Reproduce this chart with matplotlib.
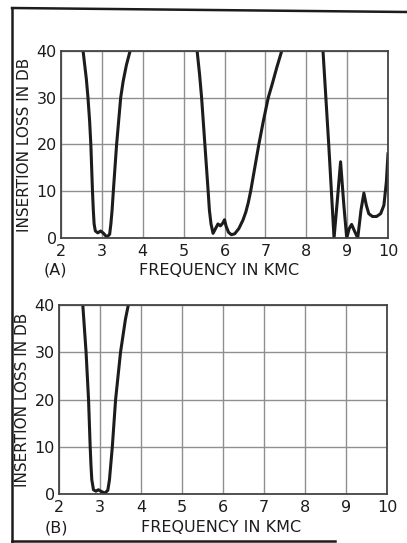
import numpy as np
import matplotlib
matplotlib.use('Agg')
import matplotlib.pyplot as plt
from matplotlib.lines import Line2D

# panel (A): three passbands
freq_a1 = [2.54, 2.58, 2.62, 2.66, 2.70, 2.73, 2.75, 2.77, 2.79, 2.81, 2.84, 2.90, 2.97, 3.04, 3.12,
           3.19, 3.22, 3.25, 3.28, 3.32, 3.36, 3.41, 3.46, 3.52, 3.60, 3.69]
loss_a1 = [40, 37, 34, 30, 25, 20, 15, 10, 6, 3, 1.5, 1.1, 1.5, 1.0, 0.2,
           0.8, 3, 6, 10, 15, 20, 25, 30, 33.5, 37, 40]

freq_a2 = [5.33, 5.39, 5.44, 5.48, 5.52, 5.56, 5.60, 5.63, 5.67, 5.72, 5.78, 5.84, 5.90, 5.96, 6.00,
           6.04, 6.10, 6.17, 6.25, 6.35, 6.45, 6.52, 6.58, 6.64, 6.74, 6.84, 6.95, 7.07, 7.17, 7.28, 7.40]
loss_a2 = [40, 35, 30, 25, 20, 15, 10, 6, 3, 1.0, 2.0, 3.0, 2.6, 3.2, 3.9,
           2.5, 1.2, 0.7, 0.9, 2.0, 3.8, 5.5, 7.5, 10, 15, 20, 25, 30, 33, 36.5, 40]

freq_a3 = [8.41, 8.55, 8.68, 8.76, 8.84, 8.92, 8.99, 9.05, 9.11, 9.18, 9.26, 9.34, 9.41, 9.47,
           9.53, 9.62, 9.72, 9.82, 9.90, 9.96, 10.0]
loss_a3 = [40, 20, 0, 8, 16.3, 7, 0, 2, 2.9, 1.5, 0, 6, 9.6, 7,
           5.2, 4.6, 4.6, 5.2, 7, 12, 18]

# panel (B): single passband
freq_b = [2.58, 2.62, 2.66, 2.69, 2.72, 2.74, 2.76, 2.78, 2.80, 2.84, 2.90, 2.96, 3.04, 3.12,
          3.19, 3.23, 3.26, 3.30, 3.34, 3.38, 3.44, 3.50, 3.56, 3.62, 3.69]
loss_b = [40, 35, 30, 25, 20, 15, 10, 6, 3, 0.9, 0.6, 0.9, 0.5, 0.2,
          0.8, 3, 6, 10, 15, 20, 25, 30, 33.5, 37, 40]

x_ticks = [2, 3, 4, 5, 6, 7, 8, 9, 10]
y_ticks = [0, 10, 20, 30, 40]

fig = plt.figure(figsize=(4.07, 5.43), dpi=100)
ink = '#1c1c1c'
grid_col = '#8f8f8f'


def setup(ax):
    ax.set_xlim(2, 10)
    ax.set_ylim(0, 40)
    ax.set_xticks(x_ticks)
    ax.set_yticks(y_ticks)
    ax.set_xticklabels([str(t) for t in x_ticks])
    ax.set_yticklabels([str(t) for t in y_ticks])
    ax.grid(True, color=grid_col, lw=1.0)
    ax.tick_params(length=0, labelsize=11.5, pad=3, colors=ink)
    ax.tick_params(axis='x', pad=4)
    for s in ax.spines.values():
        s.set_color('#444444')
        s.set_linewidth(1.3)
    ax.set_ylabel('INSERTION LOSS IN DB', fontsize=11, color=ink, labelpad=3)


ax1 = fig.add_axes([0.1499, 0.5617, 0.8034, 0.3444])
setup(ax1)
for f, l in [(freq_a1, loss_a1), (freq_a2, loss_a2), (freq_a3, loss_a3)]:
    ax1.plot(f, l, color=ink, lw=2.2, solid_joinstyle='round')

ax2 = fig.add_axes([0.145, 0.0902, 0.806, 0.3481])
setup(ax2)
ax2.plot(freq_b, loss_b, color=ink, lw=2.2, solid_joinstyle='round')

# panel captions
cap = dict(fontsize=11.5, color=ink, ha='center', va='center')
fig.text(55 / 407, 1 - 270 / 543, '(A)', **cap)
fig.text(219 / 407, 1 - 270 / 543, 'FREQUENCY IN KMC', **cap)
fig.text(56 / 407, 1 - 528 / 543, '(B)', **cap)
fig.text(221 / 407, 1 - 528 / 543, 'FREQUENCY IN KMC', **cap)

# page frame around the figure
fig.add_artist(Line2D([12 / 407, 12 / 407], [1 - 8 / 543, 1 - 542 / 543], transform=fig.transFigure, color=ink, lw=1.8))
fig.add_artist(Line2D([12 / 407, 1.0], [1 - 8 / 543, 1 - 12 / 543], transform=fig.transFigure, color=ink, lw=1.8))
fig.add_artist(Line2D([12 / 407, 335 / 407], [1 - 541 / 543, 1 - 541 / 543], transform=fig.transFigure, color=ink, lw=1.8))

fig.savefig('out.png', dpi=100)
